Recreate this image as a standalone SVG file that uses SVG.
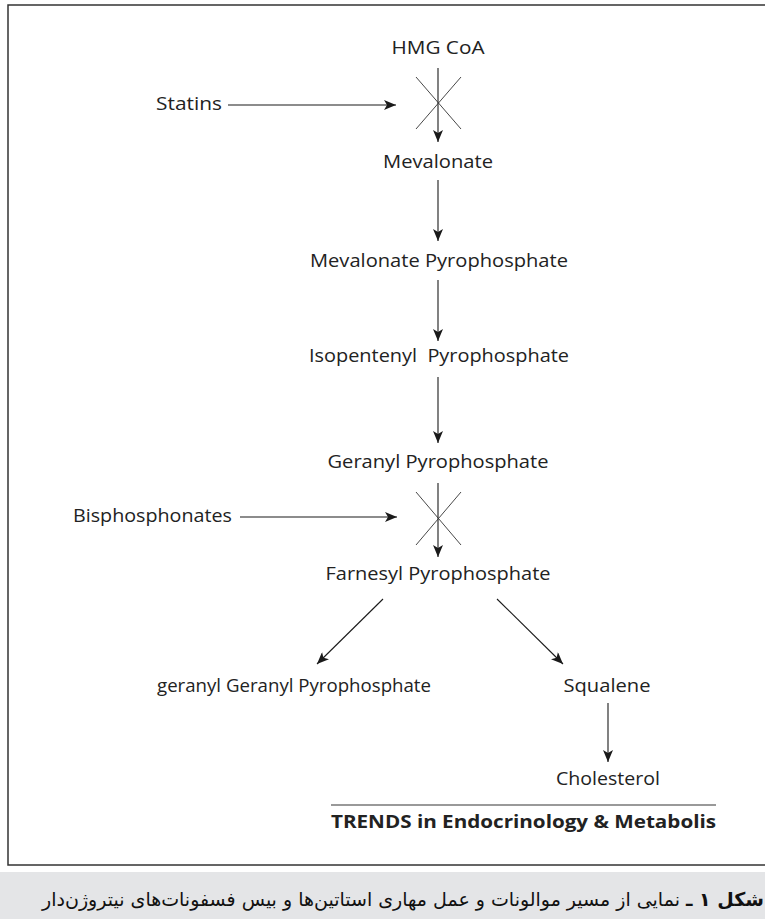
<svg xmlns="http://www.w3.org/2000/svg" width="765" height="919" viewBox="0 0 765 919">
<defs>
<marker id="ah" viewBox="0 0 12 10" refX="12" refY="5" markerWidth="12" markerHeight="10" markerUnits="userSpaceOnUse" orient="auto">
<path d="M0,0 L12,5 L0,10 L3,5 Z" fill="#1a1a1a"/>
</marker>
<style>
.t{font-family:"Open Sans","Noto Sans","DejaVu Sans",sans-serif;font-size:17.5px;fill:#222;text-anchor:middle}
.l{font-family:"Open Sans","Noto Sans","DejaVu Sans",sans-serif;font-size:17.5px;fill:#222}
.c{stroke:#1a1a1a;stroke-width:1.1;fill:none}
.x{stroke:#333;stroke-width:0.9}
</style>
</defs>
<rect x="0" y="0" width="765" height="919" fill="#fff"/>
<rect x="8" y="5" width="770" height="860" fill="none" stroke="#333" stroke-width="1.5"/>
<g id="hmgcoa"><text class="t" x="438" y="54" textLength="93" lengthAdjust="spacingAndGlyphs">HMG CoA</text></g>
<g id="statins"><text class="l" x="156" y="110" textLength="66" lengthAdjust="spacingAndGlyphs">Statins</text></g>
<g id="mevalonate"><text class="t" x="438" y="168" textLength="110" lengthAdjust="spacingAndGlyphs">Mevalonate</text></g>
<g id="mevpp"><text class="t" x="439" y="267" textLength="258" lengthAdjust="spacingAndGlyphs">Mevalonate Pyrophosphate</text></g>
<g id="ipp"><text class="t" x="439" y="362" textLength="260" lengthAdjust="spacingAndGlyphs" xml:space="preserve">Isopentenyl  Pyrophosphate</text></g>
<g id="gpp"><text class="t" x="438" y="468" textLength="221" lengthAdjust="spacingAndGlyphs">Geranyl Pyrophosphate</text></g>
<g id="bisphos"><text class="l" x="73" y="522" textLength="159" lengthAdjust="spacingAndGlyphs">Bisphosphonates</text></g>
<g id="fpp"><text class="t" x="438" y="580" textLength="225" lengthAdjust="spacingAndGlyphs">Farnesyl Pyrophosphate</text></g>
<g id="ggpp"><text class="t" x="294" y="692" textLength="274" lengthAdjust="spacingAndGlyphs">geranyl Geranyl Pyrophosphate</text></g>
<g id="squalene"><text class="t" x="607" y="692" textLength="87" lengthAdjust="spacingAndGlyphs">Squalene</text></g>
<g id="cholesterol"><text class="t" x="608" y="785" textLength="104" lengthAdjust="spacingAndGlyphs">Cholesterol</text></g>
<g id="source">
<line x1="331" y1="805" x2="716" y2="805" stroke="#777" stroke-width="1.3"/>
<text x="331" y="828" font-family="'Open Sans','Noto Sans',sans-serif" font-weight="bold" font-size="18px" fill="#222" textLength="385" lengthAdjust="spacingAndGlyphs">TRENDS in Endocrinology &amp; Metabolis</text>
</g>
<g id="connectors">
<line class="c" x1="438" y1="68" x2="438" y2="142" marker-end="url(#ah)"/>
<line class="x" x1="416" y1="77" x2="461" y2="129"/>
<line class="x" x1="461" y1="77" x2="416" y2="129"/>
<line class="c" x1="228" y1="105" x2="396" y2="105" marker-end="url(#ah)"/>
<line class="c" x1="438" y1="180" x2="438" y2="241" marker-end="url(#ah)"/>
<line class="c" x1="438" y1="280" x2="438" y2="341" marker-end="url(#ah)"/>
<line class="c" x1="438" y1="377" x2="438" y2="443" marker-end="url(#ah)"/>
<line class="c" x1="438" y1="483" x2="438" y2="557" marker-end="url(#ah)"/>
<line class="x" x1="416" y1="492" x2="461" y2="545"/>
<line class="x" x1="461" y1="492" x2="416" y2="545"/>
<line class="c" x1="240" y1="517" x2="397" y2="517" marker-end="url(#ah)"/>
<line class="c" x1="383" y1="599" x2="317" y2="664" marker-end="url(#ah)"/>
<line class="c" x1="497" y1="599" x2="563" y2="664" marker-end="url(#ah)"/>
<line class="c" x1="608" y1="703" x2="608" y2="762" marker-end="url(#ah)"/>
</g>
<g id="caption">
<rect x="0" y="872" width="765" height="47" fill="#e4e5e7"/>
<text x="764" y="906" direction="rtl" text-anchor="start" font-family="'DejaVu Sans','Noto Sans',sans-serif" font-size="19px" fill="#111"><tspan font-weight="bold">شکل ۱ ـ</tspan> نمایی از مسیر موالونات و عمل مهاری استاتین‌ها و بیس فسفونات‌های نیتروژن‌دار</text>
</g>
</svg>
